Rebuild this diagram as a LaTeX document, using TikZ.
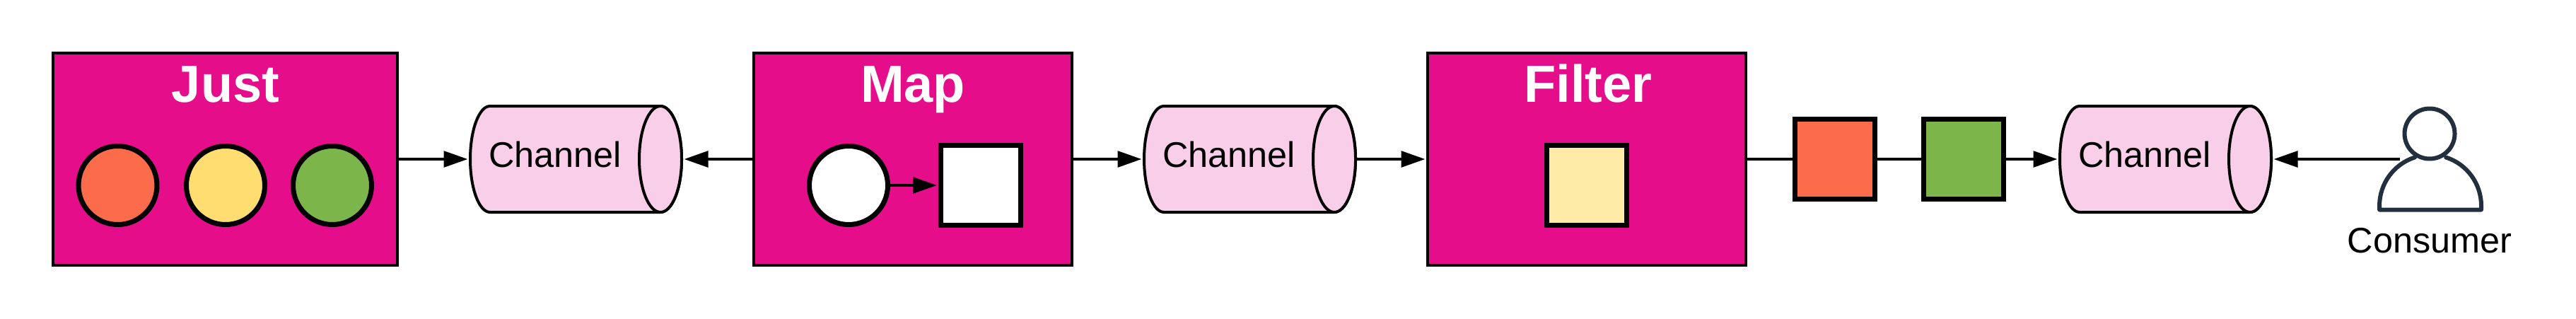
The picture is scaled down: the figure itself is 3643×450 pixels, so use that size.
\documentclass[tikz,border=0pt]{standalone}
\usepackage{fontspec}
\setmainfont{Liberation Sans}
\usetikzlibrary{arrows.meta}
\definecolor{boxpink}{HTML}{E60D8A}
\definecolor{chanpink}{HTML}{F8CEE8}
\definecolor{redorange}{HTML}{FC6B4A}
\definecolor{softyellow}{HTML}{FFDD71}
\definecolor{leafgreen}{HTML}{7CB64A}
\definecolor{paleyellow}{HTML}{FFEBA8}
\definecolor{inkblue}{HTML}{232F3E}
\tikzset{
  opbox/.style={draw=black,fill=boxpink,line width=2pt,rectangle,inner sep=0pt,minimum height=150pt},
  optitle/.style={anchor=base,inner sep=0pt,text=white,font=\fontsize{37}{37}\selectfont\bfseries},
  token/.style={draw=black,line width=3.5pt,circle,inner sep=0pt,minimum size=55.5pt},
  tile/.style={draw=black,line width=3.5pt,rectangle,inner sep=0pt,minimum size=56.5pt},
  chan/.style={rectangle,inner sep=0pt,outer sep=1pt,minimum width=149.5pt,minimum height=75pt},
  chanline/.style={draw=black,fill=chanpink,line width=2pt,line join=round},
  chantext/.style={anchor=base west,inner sep=0pt,font=\fontsize{25.2}{25.2}\selectfont},
  flow/.style={draw=black,line width=2.1pt,-{Triangle[length=17pt,width=11.3pt]},shorten >=0.75pt},
  plainflow/.style={draw=black,line width=2.1pt},
  person/.style={draw=inkblue,line width=3pt}
}
% #1 node name, #2 centre x: body with a rounded left end, and a full ellipse at the right end
\newcommand{\drawchannel}[2]{%
  \node[chan] (#1) at (#2+1,225) {};
  \path[chanline] (#2-120.5,150) -- (#2+120.5,150)
    arc[start angle=-90,end angle=90,x radius=30,y radius=75]
    -- (#2-120.5,300)
    arc[start angle=90,end angle=270,x radius=28,y radius=75] -- cycle;
  \path[chanline] (#2+120.5,225) ellipse[x radius=30,y radius=75];
}
\begin{document}
\begin{tikzpicture}[x=0.5pt,y=-0.5pt]
\useasboundingbox (0,0) rectangle (3643,450);
% operator boxes
\node[opbox,minimum width=243.5pt] (just) at (318.5,225) {};
\node[opbox,minimum width=225pt] (map) at (1291,225) {};
\node[opbox,minimum width=225pt] (filter) at (2244,225) {};
\node[optitle] (justt) at (319,144) {Just};
\node[optitle] (mapt) at (1291,144) {Map};
\node[optitle] (filtert) at (2246,144) {Filter};
% channels
\drawchannel{c1}{813.5}
\drawchannel{c2}{1766.5}
\drawchannel{c3}{3061.5}
\node[chantext] (c1t) at (691,236) {Channel};
\node[chantext] (c2t) at (1644,236) {Channel};
\node[chantext] (c3t) at (2939,236) {Channel};
% tokens
\node[token,fill=redorange] (a1) at (166.5,262) {};
\node[token,fill=softyellow] (a2) at (319,262) {};
\node[token,fill=leafgreen] (a3) at (470,262) {};
\node[token,fill=white] (m1) at (1200,262) {};
\node[tile,fill=white] (m2) at (1386.5,262) {};
\node[tile,fill=paleyellow] (f1) at (2244,262) {};
\node[tile,fill=redorange] (o1) at (2595,225) {};
\node[tile,fill=leafgreen] (o2) at (2777,225) {};
% consumer
\node[circle,person,inner sep=0pt,minimum size=35.5pt] (head) at (3436,189) {};
\draw[person,line join=round,line cap=round]
  (3365,291) arc[start angle=180,end angle=252.2,radius=72]
  (3509,291) arc[start angle=0,end angle=-72.2,radius=72]
  (3365,291) -- (3365,296.5) -- (3509,296.5) -- (3509,291);
\node[anchor=base,inner sep=0pt,font=\fontsize{25.2}{25.2}\selectfont] (consumer) at (3436,357) {Consumer};
\coordinate (pin) at (3394,225);
% connectors
\draw[flow] (just.east) -- (c1.west);
\draw[flow] (map.west) -- (c1.east);
\draw[flow] (map.east) -- (c2.west);
\draw[flow] (c2.east) -- (filter.west);
\draw[flow] (m1.east) -- (m2.west);
\draw[plainflow] (filter.east) -- (o1.west);
\draw[plainflow] (o1.east) -- (o2.west);
\draw[flow] (o2.east) -- (c3.west);
\draw[flow] (pin) -- (c3.east);
\end{tikzpicture}
\end{document}
